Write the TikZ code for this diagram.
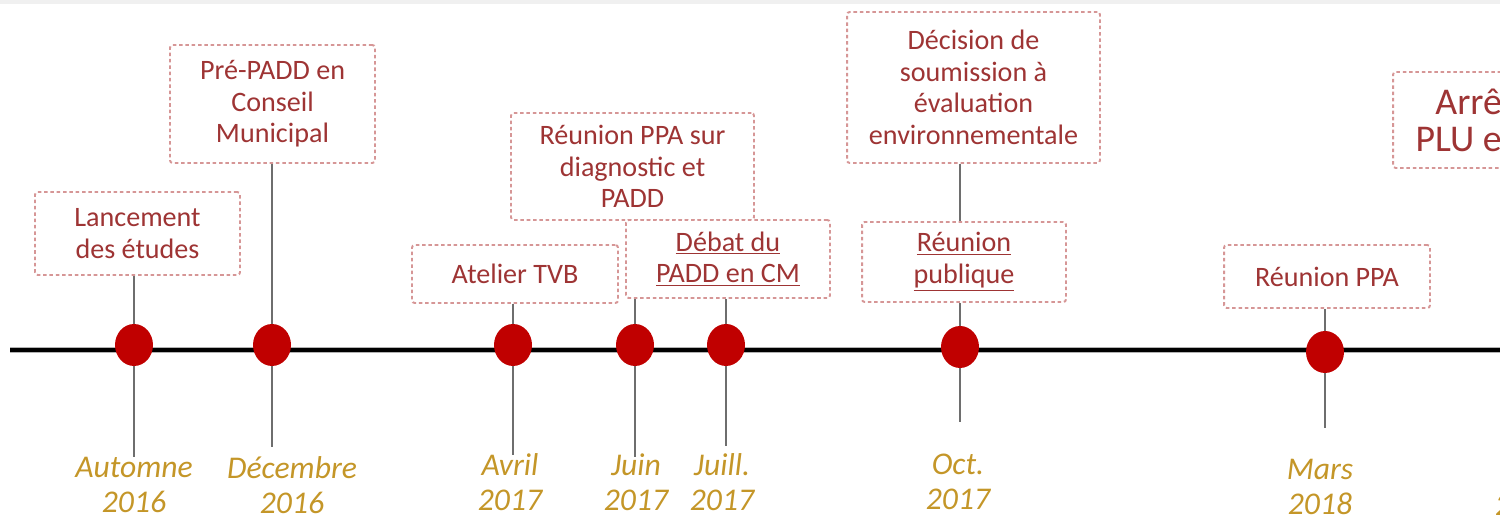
\documentclass[tikz,border=0pt]{standalone}
\usepackage{fontspec}
\setmainfont{Carlito}
\usetikzlibrary{shapes.geometric,backgrounds}

\definecolor{boxtext}{RGB}{158,52,52}
\definecolor{boxline}{RGB}{214,150,150}
\definecolor{dotred}{RGB}{192,0,0}
\definecolor{dategold}{RGB}{196,150,40}
\definecolor{stemgray}{RGB}{110,110,110}

\tikzset{
  evtbox/.style={draw=boxline, line width=1.1pt, dash pattern=on 2pt off 1.6pt,
    rounded corners=1.5pt, fill=white, text=boxtext, align=center, inner sep=2pt,
    font=\fontsize{16}{18}\selectfont},
  evtdot/.style={ellipse, fill=dotred, minimum width=0.76cm, minimum height=0.84cm, inner sep=0pt},
  datelbl/.style={text=dategold, align=center, font=\fontsize{18}{20}\selectfont\itshape},
  stem/.style={draw=stemgray, line width=1.1pt},
}

\begin{document}
\begin{tikzpicture}[x=0.02cm,y=-0.02cm]
  \useasboundingbox (0,0) rectangle (1500,519);
  \clip (0,0) rectangle (1500,519);

  % boxes
  \node[evtbox, minimum width=4.1cm, minimum height=1.66cm] (lanc) at (137.5,233.5) {Lancement\\des études};
  \node[evtbox, minimum width=4.1cm, minimum height=2.36cm] (prepadd) at (272.5,104) {Pré-PADD en\\Conseil\\Municipal};
  \node[evtbox, minimum width=4.12cm, minimum height=1.16cm] (tvb) at (515,274) {Atelier TVB};
  \node[evtbox, minimum width=4.86cm, minimum height=2.14cm] (ppadiag) at (632.5,166.5) {Réunion PPA sur\\diagnostic et\\PADD};
  \node[evtbox, minimum width=4.08cm, minimum height=1.56cm] (debat) at (728,259) {\underline{Débat du}\\\underline{PADD en CM}};
  \node[evtbox, minimum width=5.06cm, minimum height=3.02cm] (decis) at (973.5,87.5) {Décision de\\soumission à\\évaluation\\environnementale};
  \node[evtbox, minimum width=4.08cm, minimum height=1.6cm] (pub) at (964,262) {\underline{Réunion}\\\underline{publique}};
  \node[evtbox, minimum width=4.12cm, minimum height=1.26cm] (ppa) at (1327,276.5) {Réunion PPA};
  \node[evtbox, minimum width=4.24cm, minimum height=1.92cm, font=\fontsize{21.5}{21}\selectfont] (arret) at (1499,120) {Arrêt du\\PLU en CM};

  % dots
  \node[evtdot] (d1) at (134,345) {};
  \node[evtdot] (d2) at (272,345) {};
  \node[evtdot] (d3) at (513,345) {};
  \node[evtdot] (d4) at (635,345) {};
  \node[evtdot] (d5) at (726,345) {};
  \node[evtdot] (d6) at (960,347) {};
  \node[evtdot] (d7) at (1325,352) {};

  % dates
  \node[datelbl] (l1) at (134,485) {Automne\\2016};
  \node[datelbl] (l2) at (292,485) {Décembre\\2016};
  \node[datelbl] (l3) at (510,482) {Avril\\2017};
  \node[datelbl] (l4) at (636,482) {Juin\\2017};
  \node[datelbl] (l5) at (722,482) {Juill.\\2017};
  \node[datelbl] (l6) at (958,482) {Oct.\\2017};
  \node[datelbl] (l7) at (1320,487) {Mars\\2018};
  \node[datelbl, anchor=west] (l8) at (1489,505) {2018};

  \begin{scope}[on background layer]
    \fill[black!6] (0,0) rectangle (1500,4);
    % timeline
    \coordinate (tl0) at (10,350);
    \coordinate (tl1) at (1500,350);
    \draw[gray!60, line width=3.6pt] (tl0) -- (tl1);
    \draw[line width=2pt] (tl0) -- (tl1);
    % stems
    \coordinate (e1) at (134,457);
    \coordinate (e2) at (272,447);
    \coordinate (e3) at (513,455);
    \coordinate (e4) at (635,457);
    \coordinate (e5) at (726,446);
    \coordinate (e6) at (960,422);
    \coordinate (e7) at (1325,428);
    \draw[stem] (lanc.south -| d1) -- (e1);
    \draw[stem] (prepadd.south -| d2) -- (e2);
    \draw[stem] (tvb.south -| d3) -- (e3);
    \draw[stem] (ppadiag.south -| d4) -- (e4);
    \draw[stem] (debat.south -| d5) -- (e5);
    \draw[stem] (decis.south -| d6) -- (pub.north -| d6);
    \draw[stem] (pub.south -| d6) -- (e6);
    \draw[stem] (ppa.south -| d7) -- (e7);
  \end{scope}
\end{tikzpicture}
\end{document}
